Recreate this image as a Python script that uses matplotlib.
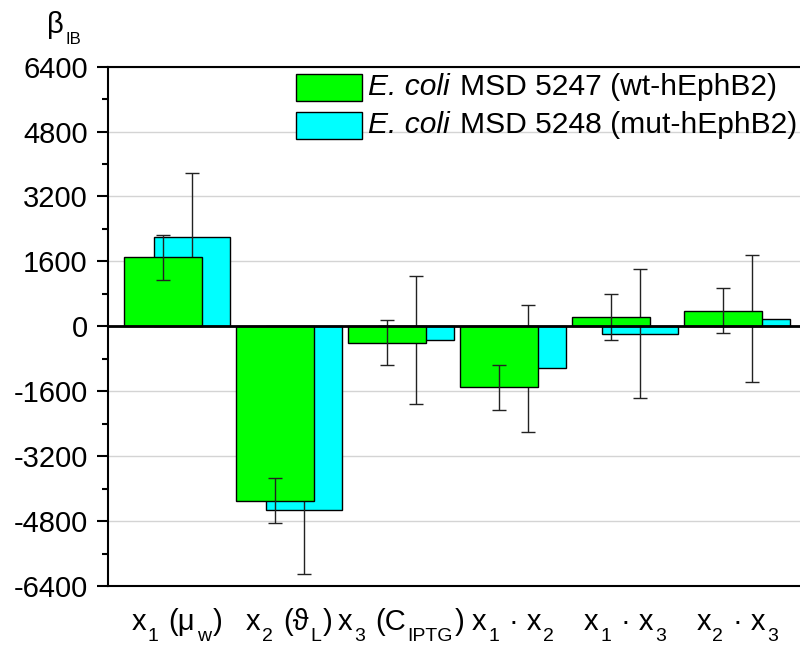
import re
import matplotlib
matplotlib.use("Agg")
import matplotlib.pyplot as plt
import numpy as np
from matplotlib.patches import Rectangle
from matplotlib.ticker import MultipleLocator
from matplotlib.transforms import blended_transform_factory, offset_copy

FAMILY = ['Liberation Sans', 'DejaVu Sans']
plt.rcParams['font.family'] = FAMILY
plt.rcParams['axes.unicode_minus'] = False

# Regression coefficients for inclusion-body formation (beta_IB)
factors = ['x_{1} (μ_{w})', 'x_{2} (ϑ_{L})', 'x_{3} (C_{IPTG})',
           'x_{1} · x_{2}', 'x_{1} · x_{3}', 'x_{2} · x_{3}']
wt_beta = [1700, -4300, -410, -1500, 230, 390]
wt_err = [555, 555, 555, 555, 565, 560]
mut_beta = [2200, -4530, -345, -1035, -180, 190]
mut_err = [1570, 1578, 1578, 1570, 1585, 1567]
species = 'E. coli'
wt_label = 'MSD 5247 (wt-hEphB2)'
mut_label = 'MSD 5248 (mut-hEphB2)'
yticks = [-6400, -4800, -3200, -1600, 0, 1600, 3200, 4800, 6400]

green = '#00ff00'
cyan = '#00ffff'
W, H = 800, 646
BIG, SUB = 21, 14

fig = plt.figure(figsize=(W / 100, H / 100), dpi=100)
ax = fig.add_axes([0.135, 0.0929, 0.8725, 0.8039])

x = np.arange(len(factors))
ax.set_axisbelow(True)
ax.yaxis.grid(True, color='#d4d4d4', linewidth=1.0)

# mutant series sits behind the wild-type series
ax.bar(x + 0.134, mut_beta, width=0.678, color=cyan, edgecolor='black',
       linewidth=1.0, zorder=2)
ax.errorbar(x + 0.134, mut_beta, yerr=mut_err, fmt='none', ecolor='#222222',
            elinewidth=1.0, capsize=5, capthick=1.0, zorder=2.5)
ax.bar(x - 0.125, wt_beta, width=0.696, color=green, edgecolor='black',
       linewidth=1.0, zorder=3)
ax.errorbar(x - 0.125, wt_beta, yerr=wt_err, fmt='none', ecolor='#222222',
            elinewidth=1.0, capsize=5, capthick=1.0, zorder=3.5)

ax.axhline(0, color='black', linewidth=2.0, zorder=4)

ax.set_xlim(-0.614, 5.614)
ax.set_ylim(-6400, 6400)
ax.set_yticks(yticks)
ax.set_yticklabels([str(v) for v in yticks])
ax.yaxis.set_minor_locator(MultipleLocator(800))
ax.set_xticks(x)
ax.set_xticklabels([''] * len(factors))

ax.tick_params(axis='y', which='major', direction='out', length=8, width=1.5,
               labelsize=BIG, pad=6.5)
ax.tick_params(axis='y', which='minor', direction='out', length=4.5, width=1.5)
ax.tick_params(axis='x', which='both', length=0)

for side in ['left', 'bottom', 'top']:
    ax.spines[side].set_linewidth(1.5)
ax.spines['right'].set_visible(False)

renderer = fig.canvas.get_renderer()


def parse(label):
    """Split 'x_{1} (μ_{w})' into text runs, subscripts and space gaps."""
    items = []
    for tok in re.split(r'(_\{[^}]*\})', label):
        if not tok:
            continue
        if tok.startswith('_{'):
            items.append(('text', tok[2:-1], True))
            continue
        lead = len(tok) - len(tok.lstrip(' '))
        trail = len(tok) - len(tok.rstrip(' '))
        if lead:
            items.append(('gap', lead))
        if tok.strip(' '):
            items.append(('text', tok.strip(' '), False))
        if trail:
            items.append(('gap', trail))
    return items


def draw_rich(items, x0, ybase_px, xtrans, ha='center', big=BIG, sub=SUB,
              drop=10.7, style0='normal'):
    base = blended_transform_factory(xtrans, fig.transFigure)
    y = 1 - ybase_px / H
    space_px = 0.278 * big * 100 / 72
    laid = []
    for it in items:
        if it[0] == 'gap':
            laid.append(['gap', it[1] * space_px + 2.0])
            continue
        _, s, is_sub, *rest = it
        style = rest[0] if rest else style0
        t = fig.text(x0, y, s, fontsize=sub if is_sub else big, style=style,
                     family=FAMILY, ha='left', va='baseline', transform=base)
        w = t.get_window_extent(renderer).width
        laid.append(['text', t, w, drop if is_sub else 0.0])
    total = 0.0
    prev_text = False
    for it in laid:
        if it[0] == 'gap':
            total += it[1]
            prev_text = False
        else:
            total += it[2] + (1.5 if prev_text else 0.0)
            prev_text = True
    cur = -total / 2 if ha == 'center' else 0.0
    prev_text = False
    for it in laid:
        if it[0] == 'gap':
            cur += it[1]
            prev_text = False
            continue
        if prev_text:
            cur += 1.5
        it[1].set_transform(offset_copy(base, fig=fig, x=cur, y=-it[3],
                                        units='dots'))
        cur += it[2]
        prev_text = True


# category labels under the axis
for xi, lab in zip(x, factors):
    draw_rich(parse(lab), xi, 630, ax.transData)

# legend: swatches and labels
fig_x = fig.transFigure
for row, (col, lab) in enumerate([(green, wt_label), (cyan, mut_label)]):
    top = 74.3 + row * 38
    fig.patches.append(Rectangle((295.7 / W, 1 - (top + 26.4) / H),
                                 66.6 / W, 26.4 / H, transform=fig_x,
                                 facecolor=col, edgecolor='black',
                                 linewidth=1.0, zorder=5))
    draw_rich([('text', species, False, 'italic'), ('gap', 1),
               ('text', lab, False, 'normal')],
              368 / W, top + 21.0, fig_x, ha='left', big=21.6)

# y-axis title
draw_rich([('text', 'β', False), ('text', 'IB', True)], 47 / W, 33, fig_x,
          ha='left', sub=12, drop=11)

fig.savefig('out.png', dpi=100)
